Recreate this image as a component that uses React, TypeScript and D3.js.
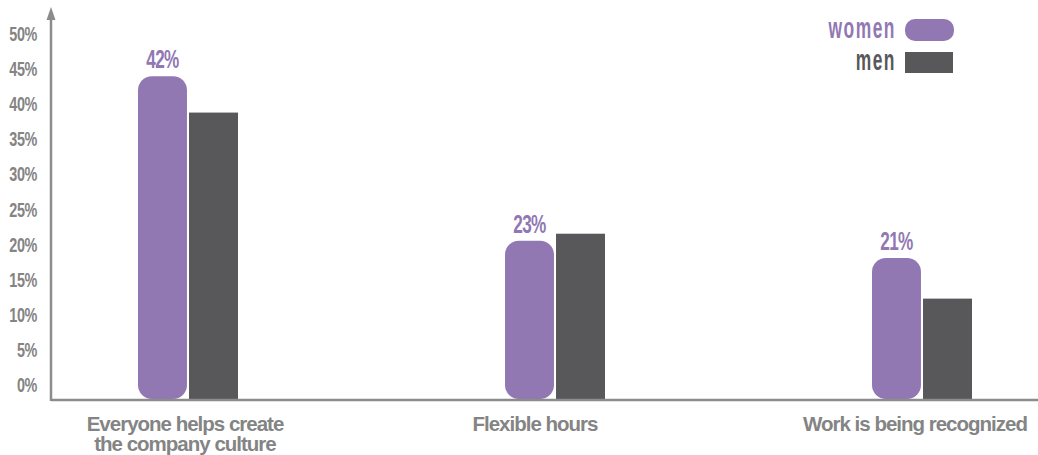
import React from "react";
import * as d3 from "d3";

const categories = ["Everyone helps create the company culture", "Flexible hours", "Work is being recognized"];
const categoryLines = [["Everyone helps create", "the company culture"], ["Flexible hours"], ["Work is being recognized"]];
const women = [42, 23, 21];
const men = [37.8, 23.8, 16.3];
const womenLabels = ["42%", "23%", "21%"];
const yTickValues = [0, 5, 10, 15, 20, 25, 30, 35, 40, 45, 50];
const series = ["women", "men"];

const W = 1038;
const H = 455;
const PURPLE = "#9178B3";
const DARK = "#58585A";
const AXIS = "#8C8C8C";
const LABEL = "#848484";
const SANS = "'Liberation Sans', Arial, sans-serif";

function NarrowText(props: {
  x: number; y: number; sx: number; size: number; anchor: "start" | "middle" | "end";
  fill: string; spacing?: number; children: React.ReactNode;
}) {
  const { x, y, sx, size, anchor, fill, spacing = 0, children } = props;
  return (
    <g transform={`translate(${x},${y}) scale(${sx},1)`}>
      <text x={0} y={0} textAnchor={anchor} fill={fill}
        style={{ fontFamily: SANS, fontWeight: 700, fontSize: size, letterSpacing: spacing }}>
        {children}
      </text>
    </g>
  );
}

export default function App() {
  const axisX = 51;
  const axisY = 400;
  const x = d3.scalePoint<string>().domain(categories).range([188, 922]);
  const inner = d3.scaleBand<string>().domain(series).range([-50, 50]).paddingInner(0.04);
  const y = d3.scaleLinear().domain([4.7, 50]).range([399, 7]);
  const tickY = d3.scaleLinear().domain([0, 50]).range([392, 41]);
  const bw = inner.bandwidth();
  const labelShift = [-3, -20, -7];

  return (
    <svg width={W} height={H} style={{ position: "absolute", left: 0, top: 0, background: "#fff" }}>
      {/* y tick labels */}
      {yTickValues.map((t) => (
        <NarrowText key={t} x={37} y={tickY(t)} sx={0.72} size={20} anchor="end" fill={LABEL} spacing={-0.5}>
          {t}%
        </NarrowText>
      ))}
      {/* bars */}
      {categories.map((c, i) => {
        const cx = x(c)!;
        const wx = cx + inner("women")!;
        const mx = cx + inner("men")!;
        return (
          <g key={c}>
            <rect x={wx} y={y(women[i])} width={bw} height={399 - y(women[i])} rx={14} ry={14} fill={PURPLE} />
            <rect x={mx} y={y(men[i])} width={bw} height={axisY - y(men[i])} fill={DARK} />
            <NarrowText x={wx + bw / 2} y={y(women[i]) - 8} sx={0.66} size={26} anchor="middle" fill={PURPLE} spacing={-1}>
              {womenLabels[i]}
            </NarrowText>
            {categoryLines[i].map((line, j) => (
              <text key={j} x={cx + labelShift[i]} y={431 + j * 20} textAnchor="middle" fill={LABEL}
                style={{ fontFamily: SANS, fontWeight: 700, fontSize: 20.5, letterSpacing: -1 }}>
                {line}
              </text>
            ))}
          </g>
        );
      })}
      {/* axes */}
      <line x1={axisX} y1={18} x2={axisX} y2={axisY + 1} stroke={AXIS} strokeWidth={2.5} />
      <line x1={axisX} y1={axisY} x2={W} y2={axisY} stroke={AXIS} strokeWidth={2.5} />
      <path d={`M${axisX - 4.5},${20} L${axisX},${7} L${axisX + 4.5},${20} Z`} fill={AXIS} />
      {/* legend */}
      <NarrowText x={896} y={38} sx={0.6} size={29} anchor="end" fill={PURPLE} spacing={2.5}>women</NarrowText>
      <rect x={905} y={19} width={49} height={22} rx={10} ry={10} fill={PURPLE} />
      <NarrowText x={896} y={70} sx={0.6} size={29} anchor="end" fill={DARK} spacing={2.5}>men</NarrowText>
      <rect x={905} y={52} width={48} height={21} fill={DARK} />
    </svg>
  );
}
